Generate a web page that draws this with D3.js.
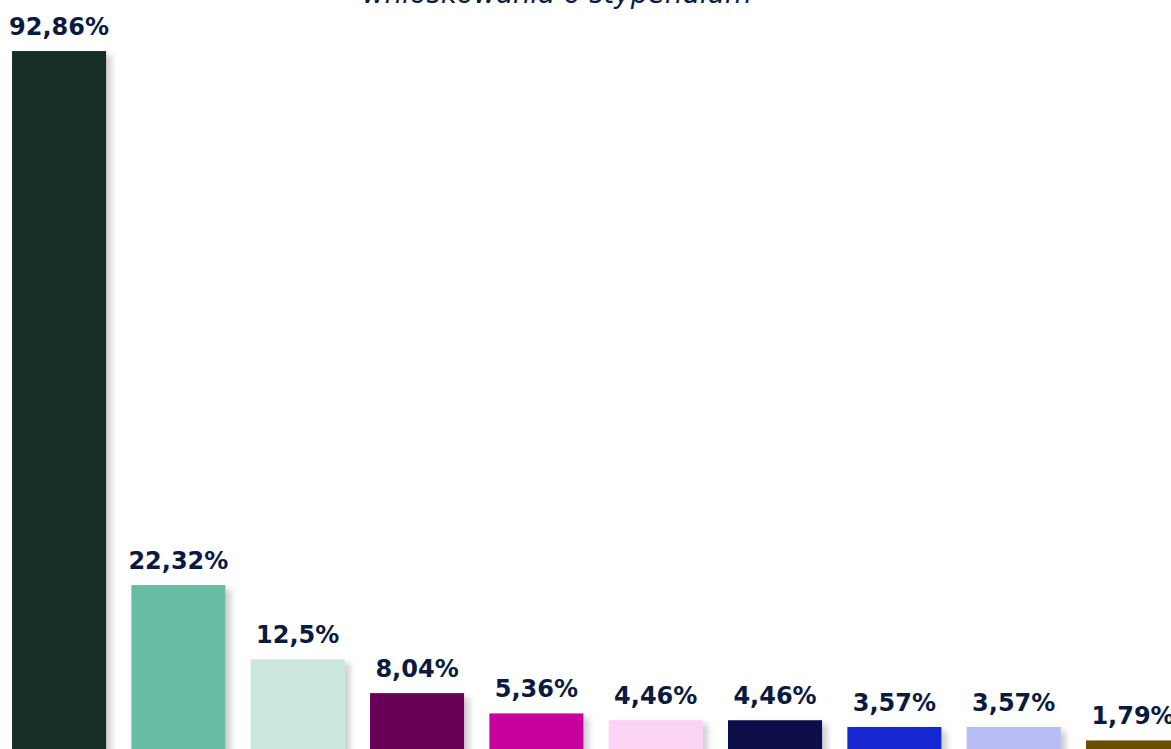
<!DOCTYPE html>
<html>
<head>
<meta charset="utf-8">
<script src="https://cdn.jsdelivr.net/npm/d3@7"></script>
<style>
  html, body { margin: 0; padding: 0; background: #ffffff; overflow: hidden; }
  svg { display: block; }
</style>
</head>
<body>
<svg id="chart" width="1171" height="749"></svg>
<script>
// ---- data ----
const categories = ["K1", "K2", "K3", "K4", "K5", "K6", "K7", "K8", "K9", "K10"];
const values = [92.86, 22.32, 12.5, 8.04, 5.36, 4.46, 4.46, 3.57, 3.57, 1.79];
const valueLabels = ["92,86%", "22,32%", "12,5%", "8,04%", "5,36%", "4,46%", "4,46%", "3,57%", "3,57%", "1,79%"];
const barColors = ["#172e25", "#66bda3", "#cce7df", "#6a0054", "#c8009e", "#fbd3f5", "#070c47", "#1726d0", "#b8bcf5", "#6b4e00"];
const titleText = "wnioskowania o stypendium";

const svg = d3.select("#chart");

const defs = svg.append("defs");
const f = defs.append("filter").attr("id", "shadow")
  .attr("x", "-20%").attr("y", "-20%").attr("width", "150%").attr("height", "150%");
f.append("feDropShadow").attr("dx", 5).attr("dy", 4).attr("stdDeviation", 3)
  .attr("flood-color", "#000").attr("flood-opacity", 0.2);

const x = d3.scaleBand().domain(categories).range([-0.6, 1192.7])
  .paddingInner(0.212).paddingOuter(0.106);
const y = d3.scaleLinear().domain([0, 100]).range([754, -3]);

const data = categories.map((c, i) => ({ c, v: values[i], lab: valueLabels[i], col: barColors[i] }));

svg.append("g").selectAll("rect").data(data).join("rect")
  .attr("x", d => x(d.c))
  .attr("y", d => y(d.v))
  .attr("width", x.bandwidth())
  .attr("height", d => y(0) - y(d.v))
  .attr("fill", d => d.col)
  .attr("filter", "url(#shadow)");

svg.append("g").selectAll("text").data(data).join("text")
  .attr("x", d => x(d.c) + x.bandwidth() / 2)
  .attr("y", d => y(d.v) - 16)
  .attr("text-anchor", "middle")
  .attr("font-family", "'DejaVu Sans', Verdana, sans-serif")
  .attr("font-weight", "bold")
  .attr("font-size", 24)
  .attr("fill", "#0b1a40")
  .text(d => d.lab);

svg.append("text")
  .attr("x", 557)
  .attr("y", 3)
  .attr("text-anchor", "middle")
  .attr("font-family", "'DejaVu Sans', Verdana, sans-serif")
  .attr("font-style", "italic")
  .attr("font-size", 27.5)
  .attr("fill", "#0d1b3e")
  .text(titleText);
</script>
</body>
</html>
